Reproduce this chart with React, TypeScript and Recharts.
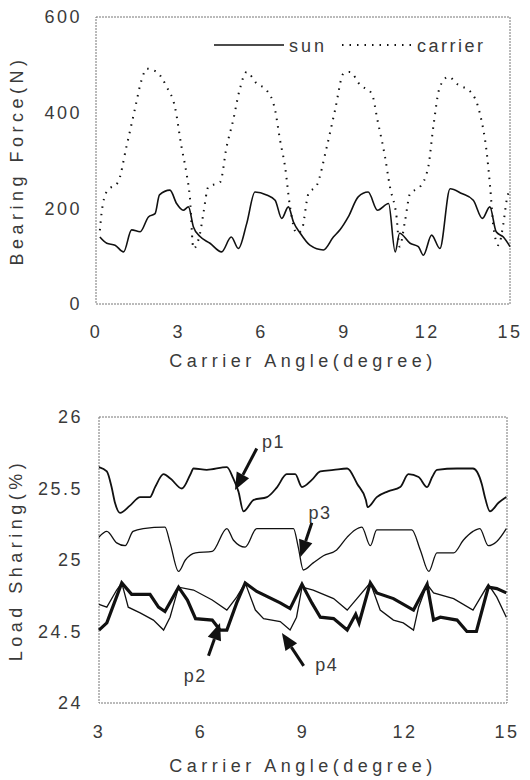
import React from "react";
import {
  LineChart,
  Line,
  XAxis,
  YAxis,
  ReferenceArea,
  ReferenceLine,
  ReferenceDot,
  Legend,
  Label,
} from "recharts";

// ---- top chart: bearing force ----
const sunAngle = [0.14, 0.39, 0.69, 1.0, 1.29, 1.6, 1.9, 2.14, 2.3, 2.68, 2.92, 3.16, 3.35, 3.53, 3.77, 4.13, 4.55, 4.9, 5.16, 5.46, 5.76, 6.18, 6.49, 6.73, 6.97, 7.15, 7.4, 7.75, 8.24, 8.6, 8.84, 9.14, 9.5, 9.86, 10.2, 10.6, 10.84, 11.0, 11.38, 11.68, 11.86, 12.16, 12.46, 12.83, 13.25, 13.67, 14.0, 14.27, 14.5, 14.76, 15.0];
const sunForce = [140, 127, 123, 109, 155, 151, 182, 189, 228, 238, 210, 196, 203, 161, 141, 127, 109, 140, 116, 168, 234, 228, 217, 179, 203, 172, 148, 123, 113, 140, 155, 182, 224, 234, 196, 210, 109, 148, 127, 120, 102, 144, 116, 241, 231, 217, 179, 203, 151, 140, 120];

const carrierAngle = [0.14, 0.2, 0.39, 0.8, 1.1, 1.4, 1.65, 1.84, 2.2, 2.56, 2.86, 3.1, 3.28, 3.4, 3.53, 3.77, 3.89, 4.07, 4.5, 4.73, 4.97, 5.2, 5.46, 5.82, 6.18, 6.49, 6.67, 6.85, 7.03, 7.27, 7.45, 7.7, 8.0, 8.36, 8.66, 8.97, 9.2, 9.57, 9.99, 10.2, 10.47, 10.65, 10.89, 11.0, 11.2, 11.38, 11.74, 12.04, 12.22, 12.46, 12.77, 13.13, 13.55, 13.91, 14.16, 14.28, 14.4, 14.58, 14.76, 14.88, 14.98];
const carrierForce = [154, 189, 235, 255, 328, 405, 468, 492, 485, 454, 412, 328, 273, 224, 116, 148, 189, 245, 255, 328, 384, 447, 485, 461, 447, 405, 342, 287, 203, 148, 154, 231, 248, 328, 405, 482, 485, 458, 440, 384, 308, 245, 182, 120, 175, 231, 245, 287, 370, 454, 475, 458, 445, 398, 315, 245, 161, 123, 168, 217, 238];

const topXTicks = [0, 3, 6, 9, 12, 15];
const topYTicks = [0, 200, 400, 600];

// ---- bottom chart: load sharing ----
const p1Angle = [3.0, 3.23, 3.37, 3.47, 3.62, 3.91, 4.21, 4.5, 4.65, 4.9, 5.1, 5.44, 5.69, 5.78, 6.17, 6.76, 6.95, 7.1, 7.25, 7.55, 7.94, 8.24, 8.52, 8.77, 8.97, 9.26, 9.51, 9.9, 10.3, 10.6, 10.85, 10.9, 11.17, 11.5, 11.86, 12.1, 12.4, 12.65, 12.8, 12.94, 13.53, 14.0, 14.26, 14.34, 14.5, 14.75, 14.98];
const p1Share = [25.65, 25.62, 25.51, 25.4, 25.33, 25.38, 25.44, 25.44, 25.51, 25.6, 25.57, 25.5, 25.6, 25.64, 25.63, 25.65, 25.57, 25.48, 25.34, 25.42, 25.44, 25.51, 25.6, 25.6, 25.51, 25.56, 25.62, 25.63, 25.64, 25.53, 25.42, 25.37, 25.44, 25.48, 25.51, 25.6, 25.58, 25.51, 25.58, 25.63, 25.64, 25.64, 25.53, 25.45, 25.34, 25.4, 25.44];

const p3Angle = [3.0, 3.23, 3.52, 3.77, 4.0, 4.3, 4.94, 5.09, 5.34, 5.54, 5.84, 6.33, 6.76, 6.95, 7.3, 7.64, 8.72, 8.86, 9.01, 9.3, 9.6, 9.99, 10.3, 10.53, 10.73, 10.98, 11.17, 12.2, 12.45, 12.7, 12.94, 13.43, 13.72, 14.0, 14.2, 14.45, 14.7, 14.98];
const p3Share = [25.16, 25.2, 25.12, 25.1, 25.2, 25.22, 25.23, 25.12, 24.92, 25.0, 25.05, 25.06, 25.22, 25.14, 25.09, 25.22, 25.22, 25.09, 24.93, 24.98, 25.03, 25.07, 25.16, 25.21, 25.23, 25.1, 25.21, 25.21, 25.07, 24.92, 25.05, 25.05, 25.14, 25.2, 25.22, 25.1, 25.13, 25.22];

const p2Angle = [3.0, 3.23, 3.67, 3.96, 4.5, 4.75, 4.94, 5.34, 5.6, 5.84, 6.33, 6.56, 6.76, 7.05, 7.3, 7.64, 8.33, 8.62, 8.97, 9.26, 9.51, 9.9, 10.3, 10.55, 10.65, 10.98, 11.17, 11.66, 12.25, 12.65, 12.84, 13.04, 13.53, 13.82, 14.1, 14.45, 14.7, 14.98];
const p2Share = [24.51, 24.56, 24.84, 24.76, 24.76, 24.67, 24.64, 24.81, 24.72, 24.59, 24.58, 24.51, 24.51, 24.7, 24.84, 24.78, 24.7, 24.66, 24.83, 24.7, 24.6, 24.59, 24.51, 24.62, 24.56, 24.84, 24.77, 24.73, 24.65, 24.83, 24.58, 24.6, 24.58, 24.5, 24.5, 24.81, 24.8, 24.77];

const p4Angle = [3.0, 3.23, 3.52, 3.67, 3.86, 4.21, 4.6, 4.9, 5.09, 5.34, 5.78, 6.33, 6.76, 7.05, 7.3, 7.6, 7.84, 8.33, 8.62, 8.81, 8.97, 9.3, 9.9, 10.3, 10.98, 11.27, 11.66, 11.95, 12.25, 12.4, 12.65, 12.84, 13.43, 14.0, 14.45, 14.7, 14.98];
const p4Share = [24.69, 24.67, 24.79, 24.84, 24.67, 24.63, 24.58, 24.51, 24.6, 24.81, 24.79, 24.72, 24.65, 24.74, 24.84, 24.65, 24.59, 24.57, 24.51, 24.6, 24.81, 24.79, 24.73, 24.65, 24.84, 24.65, 24.58, 24.56, 24.51, 24.67, 24.83, 24.77, 24.73, 24.65, 24.83, 24.74, 24.6];

const bottomXTicks = [3, 6, 9, 12, 15];
const bottomYTicks = [24, 24.5, 25, 25.5, 26];

// annotation arrows: label, label position, arrow tail, arrow tip
const noteNames = ["p1", "p3", "p2", "p4"];
const noteLabelAt = [[8.13, 25.83], [9.5, 25.33], [5.83, 24.19], [9.7, 24.27]];
const noteTail = [[7.64, 25.78], [9.26, 25.26], [6.22, 24.33], [9.02, 24.26]];
const noteTip = [[7.0, 25.49], [8.92, 25.02], [6.56, 24.56], [8.38, 24.49]];

const zip = (xs: number[], ys: number[], key: string) =>
  xs.map((x, i) => ({ angle: x, [key]: ys[i] }));

const ink = "#111";
const textColor = "#3a3a3a";
const tickStyle = { fill: textColor, fontSize: 18, letterSpacing: 2.5 };

function yTitle(text: string, cx: number) {
  return (props: any) => {
    const vb = props.viewBox || { x: 0, y: 0, width: 0, height: 0 };
    const cy = vb.y + vb.height / 2;
    return (
      <text
        x={cx}
        y={cy}
        transform={`rotate(-90, ${cx}, ${cy})`}
        textAnchor="middle"
        dominantBaseline="middle"
        fill={textColor}
        fontSize={18}
        letterSpacing={4.5}
      >
        {text}
      </text>
    );
  };
}

function xTitle(text: string, dy: number) {
  return (props: any) => {
    const vb = props.viewBox || { x: 0, y: 0, width: 0, height: 0 };
    return (
      <text
        x={vb.x + vb.width / 2}
        y={vb.y + dy}
        textAnchor="middle"
        dominantBaseline="middle"
        fill={textColor}
        fontSize={18}
        letterSpacing={4.5}
      >
        {text}
      </text>
    );
  };
}

const arrowShape = (props: any) => {
  const { x1, y1, x2, y2 } = props;
  const dx = x2 - x1;
  const dy = y2 - y1;
  const len = Math.hypot(dx, dy) || 1;
  const ux = dx / len;
  const uy = dy / len;
  const head = 17;
  const half = 7;
  const bx = x2 - ux * head;
  const by = y2 - uy * head;
  const pts = `${x2},${y2} ${bx - uy * half},${by + ux * half} ${bx + uy * half},${by - ux * half}`;
  return (
    <g>
      <line x1={x1} y1={y1} x2={bx} y2={by} stroke={ink} strokeWidth={3} />
      <polygon points={pts} fill={ink} />
    </g>
  );
};

const TopLegend = () => (
  <svg width={290} height={28} style={{ display: "block" }}>
    <line x1={0} y1={12} x2={70} y2={12} stroke={ink} strokeWidth={1.5} />
    <text x={75} y={14} dominantBaseline="middle" fill={textColor} fontSize={18} letterSpacing={3}>
      sun
    </text>
    <line x1={128} y1={12} x2={198} y2={12} stroke={ink} strokeWidth={2} strokeDasharray="1.5 6" />
    <text x={203} y={14} dominantBaseline="middle" fill={textColor} fontSize={18} letterSpacing={2.5}>
      carrier
    </text>
  </svg>
);

export default function App() {
  const sunData = zip(sunAngle, sunForce, "force");
  const carrierData = zip(carrierAngle, carrierForce, "force");
  const p1Data = zip(p1Angle, p1Share, "share");
  const p2Data = zip(p2Angle, p2Share, "share");
  const p3Data = zip(p3Angle, p3Share, "share");
  const p4Data = zip(p4Angle, p4Share, "share");

  return (
    <div
      style={{
        position: "absolute",
        left: 0,
        top: 0,
        width: 530,
        height: 780,
        background: "#fff",
        fontFamily: "'Liberation Sans', Arial, sans-serif",
      }}
    >
      <LineChart width={530} height={390} margin={{ top: 17, right: 20, left: 0, bottom: 0 }}>
        <XAxis
          type="number"
          dataKey="angle"
          domain={[0, 15]}
          ticks={topXTicks}
          axisLine={false}
          tickLine={false}
          tickSize={0}
          tickMargin={21}
          height={86}
          tick={tickStyle}
          allowDuplicatedCategory={false}
        >
          <Label content={xTitle("Carrier Angle(degree)", 58)} />
        </XAxis>
        <YAxis
          type="number"
          domain={[0, 600]}
          ticks={topYTicks}
          axisLine={false}
          tickLine={false}
          tickSize={0}
          tickMargin={14}
          width={96}
          tick={tickStyle}
        >
          <Label content={yTitle("Bearing Force(N)", 18)} />
        </YAxis>
        <ReferenceArea x1={0} x2={15} y1={0} y2={600} fill="none" stroke="#777" strokeWidth={1} strokeDasharray="2 1" />
        <Legend
          layout="horizontal"
          verticalAlign="middle"
          align="center"
          content={() => <TopLegend />}
          wrapperStyle={{ top: 33, left: 214, width: 290, height: 28 }}
        />
        <Line
          data={carrierData}
          dataKey="force"
          name="carrier"
          type="monotone"
          stroke={ink}
          strokeWidth={2}
          strokeDasharray="1.5 6"
          dot={false}
          isAnimationActive={false}
        />
        <Line
          data={sunData}
          dataKey="force"
          name="sun"
          type="monotone"
          stroke={ink}
          strokeWidth={1.6}
          dot={false}
          isAnimationActive={false}
        />
      </LineChart>

      <LineChart width={530} height={390} margin={{ top: 27, right: 23, left: 0, bottom: 0 }}>
        <XAxis
          type="number"
          dataKey="angle"
          domain={[3, 15]}
          ticks={bottomXTicks}
          axisLine={false}
          tickLine={false}
          tickSize={0}
          tickMargin={22}
          height={77}
          tick={tickStyle}
          allowDuplicatedCategory={false}
        >
          <Label content={xTitle("Carrier Angle(degree)", 64)} />
        </XAxis>
        <YAxis
          type="number"
          domain={[24, 26]}
          ticks={bottomYTicks}
          axisLine={false}
          tickLine={false}
          tickSize={0}
          tickMargin={16}
          width={99}
          tick={tickStyle}
        >
          <Label content={yTitle("Load Sharing(%)", 17)} />
        </YAxis>
        <ReferenceArea x1={3} x2={15} y1={24} y2={26} fill="none" stroke="#777" strokeWidth={1} strokeDasharray="2 1" />
        <Line data={p1Data} dataKey="share" name="p1" type="monotone" stroke={ink} strokeWidth={1.8} dot={false} isAnimationActive={false} />
        <Line data={p3Data} dataKey="share" name="p3" type="monotone" stroke={ink} strokeWidth={1.3} dot={false} isAnimationActive={false} />
        <Line data={p4Data} dataKey="share" name="p4" type="linear" stroke={ink} strokeWidth={1.3} dot={false} isAnimationActive={false} />
        <Line data={p2Data} dataKey="share" name="p2" type="linear" stroke={ink} strokeWidth={3.2} dot={false} isAnimationActive={false} />
        {noteNames.map((name, i) => (
          <ReferenceLine
            key={`arrow-${name}`}
            segment={[
              { x: noteTail[i][0], y: noteTail[i][1] },
              { x: noteTip[i][0], y: noteTip[i][1] },
            ]}
            shape={arrowShape}
          />
        ))}
        {noteNames.map((name, i) => (
          <ReferenceDot
            key={`label-${name}`}
            x={noteLabelAt[i][0]}
            y={noteLabelAt[i][1]}
            r={0}
            fill="none"
            stroke="none"
            label={{ value: name, position: "center", fill: textColor, fontSize: 18, letterSpacing: 1.5 }}
          />
        ))}
      </LineChart>
    </div>
  );
}
